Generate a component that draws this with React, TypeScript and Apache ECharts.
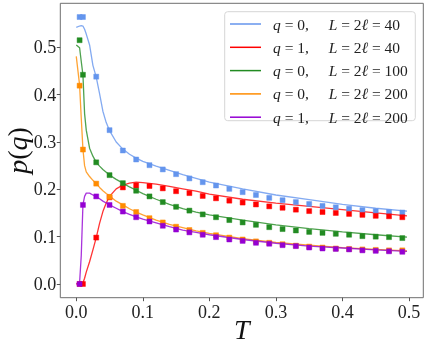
import { useEffect, useRef } from "react";
import * as echarts from "echarts";

// ---------- data ----------
const xTicks = [0, 0.1, 0.2, 0.3, 0.4, 0.5];
const yTicks = [0, 0.1, 0.2, 0.3, 0.4, 0.5];

const legendQ = [0, 1, 0, 0, 1];
const legendL = [40, 40, 100, 200, 200];

// theory curves
const lineT = [0, 0.005, 0.0075, 0.01, 0.0125, 0.015, 0.02, 0.025, 0.03, 0.035, 0.04, 0.045, 0.05, 0.06, 0.07, 0.08, 0.09, 0.1, 0.12, 0.14, 0.16, 0.18, 0.2, 0.25, 0.3, 0.35, 0.4, 0.45, 0.497];
const lineBlue = [0.542, 0.545, 0.546, 0.545, 0.538, 0.528, 0.505, 0.462, 0.437, 0.402, 0.365, 0.341, 0.324, 0.3, 0.285, 0.274, 0.266, 0.259, 0.249, 0.24, 0.231, 0.223, 0.215, 0.201, 0.188, 0.178, 0.168, 0.16, 0.154];
const lineRed = [0, 0, 0, 0.002, 0.012, 0.025, 0.047, 0.072, 0.098, 0.128, 0.153, 0.171, 0.185, 0.201, 0.209, 0.213, 0.215, 0.214, 0.211, 0.206, 0.201, 0.196, 0.19, 0.179, 0.171, 0.164, 0.157, 0.15, 0.144];
const lineGreen = [0.505, 0.499, 0.47, 0.442, 0.36, 0.325, 0.287, 0.27, 0.257, 0.249, 0.242, 0.236, 0.23, 0.221, 0.213, 0.205, 0.198, 0.191, 0.179, 0.168, 0.159, 0.152, 0.146, 0.135, 0.125, 0.117, 0.11, 0.104, 0.099];
const lineOrange = [0.481, 0.42, 0.35, 0.285, 0.25, 0.237, 0.227, 0.219, 0.212, 0.204, 0.197, 0.191, 0.186, 0.175, 0.167, 0.159, 0.152, 0.146, 0.135, 0.126, 0.119, 0.112, 0.107, 0.096, 0.088, 0.082, 0.077, 0.073, 0.07];
const linePurple = [0, 0.003, 0.06, 0.167, 0.185, 0.192, 0.192, 0.188, 0.1845, 0.18, 0.175, 0.171, 0.167, 0.16, 0.153, 0.147, 0.142, 0.137, 0.129, 0.121, 0.114, 0.109, 0.104, 0.094, 0.086, 0.08, 0.076, 0.072, 0.069];

// simulation markers
const markerT = [0.005, 0.01, 0.03, 0.05, 0.07, 0.09, 0.11, 0.13, 0.15, 0.17, 0.19, 0.21, 0.23, 0.25, 0.27, 0.29, 0.31, 0.33, 0.35, 0.37, 0.39, 0.41, 0.43, 0.45, 0.47, 0.49];
const markBlue = [0.564, 0.564, 0.438, 0.325, 0.282, 0.263, 0.251, 0.242, 0.232, 0.223, 0.215, 0.208, 0.201, 0.194, 0.188, 0.182, 0.177, 0.173, 0.169, 0.165, 0.162, 0.159, 0.156, 0.154, 0.152, 0.151];
const markRed = [0.0, 0.0, 0.098, 0.183, 0.204, 0.208, 0.207, 0.202, 0.196, 0.192, 0.186, 0.181, 0.176, 0.172, 0.168, 0.164, 0.161, 0.157, 0.154, 0.152, 0.15, 0.148, 0.146, 0.144, 0.143, 0.141];
const markGreen = [0.515, 0.442, 0.257, 0.23, 0.213, 0.197, 0.185, 0.173, 0.163, 0.155, 0.147, 0.141, 0.135, 0.13, 0.125, 0.12, 0.116, 0.113, 0.11, 0.108, 0.106, 0.104, 0.101, 0.1, 0.099, 0.097];
const markOrange = [0.419, 0.284, 0.212, 0.184, 0.165, 0.152, 0.139, 0.13, 0.121, 0.114, 0.108, 0.103, 0.098, 0.094, 0.09, 0.087, 0.084, 0.081, 0.079, 0.077, 0.075, 0.074, 0.073, 0.072, 0.071, 0.071];
const markPurple = [0.0, 0.167, 0.185, 0.167, 0.153, 0.141, 0.132, 0.123, 0.115, 0.109, 0.104, 0.099, 0.094, 0.091, 0.087, 0.085, 0.082, 0.08, 0.077, 0.075, 0.074, 0.073, 0.071, 0.07, 0.069, 0.068];

// ---------- styles ----------
const colors = ["#6495ED", "#FF0000", "#228B22", "#FF8C00", "#9400D3"];
const edgeColors = ["rgba(100,149,237,0.45)", "rgba(255,0,0,0.45)", "rgba(34,139,34,0.45)", "rgba(255,140,0,0.45)", "rgba(148,0,211,0.45)"];
const FONT = "'Liberation Serif', 'DejaVu Serif', serif";

const lines = [lineBlue, lineRed, lineGreen, lineOrange, linePurple];
const marks = [markBlue, markRed, markGreen, markOrange, markPurple];
const names = legendQ.map((q, i) => `q = ${q}, L = 2ℓ = ${legendL[i]}`);

export default function App() {
  const ref = useRef<HTMLDivElement>(null);
  useEffect(() => {
    if (!ref.current) return;
    const chart = echarts.init(ref.current, null, { renderer: "svg" });
    const lineSeries = lines.map((vals, i) => ({
      name: names[i],
      type: "line",
      data: lineT.map((t, j) => [t, vals[j]]),
      symbol: "none",
      smooth: false,
      clip: false,
      z: 2,
      lineStyle: { color: colors[i], width: 1.3, opacity: 0.8 },
      itemStyle: { color: colors[i] },
    }));
    const markSeries = marks.map((vals, i) => ({
      name: "m" + i,
      type: "scatter",
      data: markerT.map((t, j) => [t, vals[j]]),
      symbol: "rect",
      symbolSize: 5,
      clip: false,
      z: 3,
      itemStyle: { color: colors[i], borderColor: edgeColors[i], borderWidth: 1, opacity: 1 },
    }));
    const axisLabelStyle = { fontFamily: FONT, fontSize: 18, color: "#222" };
    chart.setOption({
      animation: false,
      grid: {
        left: 60.3,
        right: 3.7,
        top: 3.3,
        bottom: 51.3,
        containLabel: false,
        outerBoundsMode: "none",
        show: true,
        borderColor: "#6e6e6e",
        borderWidth: 1,
        backgroundColor: "transparent",
      },
      xAxis: {
        type: "value",
        min: -0.024,
        max: 0.5215,
        axisLine: { show: false, onZero: false },
        splitLine: { show: false },
        axisTick: { show: true, length: 3.5, inside: false, customValues: xTicks, lineStyle: { color: "#555", width: 1 } },
        axisLabel: { ...axisLabelStyle, margin: 5, customValues: xTicks, formatter: (v: number) => v.toFixed(1) },
        name: "T",
        nameLocation: "middle",
        nameGap: 17,
        nameMoveOverlap: false,
        nameTextStyle: { fontFamily: FONT, fontSize: 28, fontStyle: "italic", color: "#111", lineHeight: 30 },
      },
      yAxis: {
        type: "value",
        min: -0.029,
        max: 0.593,
        axisLine: { show: false, onZero: false },
        splitLine: { show: false },
        axisTick: { show: true, length: 3.5, inside: false, customValues: yTicks, lineStyle: { color: "#555", width: 1 } },
        axisLabel: { ...axisLabelStyle, margin: 4, customValues: yTicks, formatter: (v: number) => v.toFixed(1) },
        name: "{i|p}{n|(}{i|q}{n|)}",
        nameLocation: "middle",
        nameGap: 28,
        nameMoveOverlap: false,
        nameTextStyle: {
          fontFamily: FONT,
          fontSize: 28,
          color: "#111",
          lineHeight: 30,
          rich: {
            i: { fontFamily: FONT, fontSize: 28, fontStyle: "italic", color: "#111", lineHeight: 30 },
            n: { fontFamily: FONT, fontSize: 28, color: "#111", lineHeight: 30 },
          },
        },
      },
      graphic: [
        {
          type: "rect",
          z: 1,
          shape: { x: 224.7, y: 11.7, width: 190.6, height: 109, r: 3 },
          style: { fill: "rgba(255,255,255,0.8)", stroke: "#d6d6d6", lineWidth: 1 },
        },
      ],
      legend: {
        data: names,
        orient: "vertical",
        left: 230,
        top: 16,
        padding: 0,
        z: 10,
        icon: "rect",
        itemWidth: 31,
        itemHeight: 1.5,
        itemGap: 7.3,
        textStyle: {
          fontFamily: FONT,
          fontSize: 15.5,
          lineHeight: 14,
          color: "#222",
          rich: {
            s: { width: 7 },
            qi: { fontFamily: FONT, fontSize: 15.5, fontStyle: "italic", color: "#222", lineHeight: 14 },
            qn: { fontFamily: FONT, fontSize: 15.5, color: "#222", width: 48, lineHeight: 14 },
            li: { fontFamily: FONT, fontSize: 15.5, fontStyle: "italic", color: "#222", lineHeight: 14 },
            ln: { fontFamily: FONT, fontSize: 15.5, color: "#222", lineHeight: 14 },
          },
        },
        formatter: (name: string) => {
          const i = names.indexOf(name);
          return `{s|}{qi|q}{qn| = ${legendQ[i]},}{li|L}{ln| = 2}{li|ℓ}{ln| = ${legendL[i]}}`;
        },
      },
      series: [...lineSeries, ...markSeries],
    });
    return () => chart.dispose();
  }, []);
  return <div ref={ref} style={{ position: "fixed", left: 0, top: 0, width: 427, height: 349 }} />;
}
